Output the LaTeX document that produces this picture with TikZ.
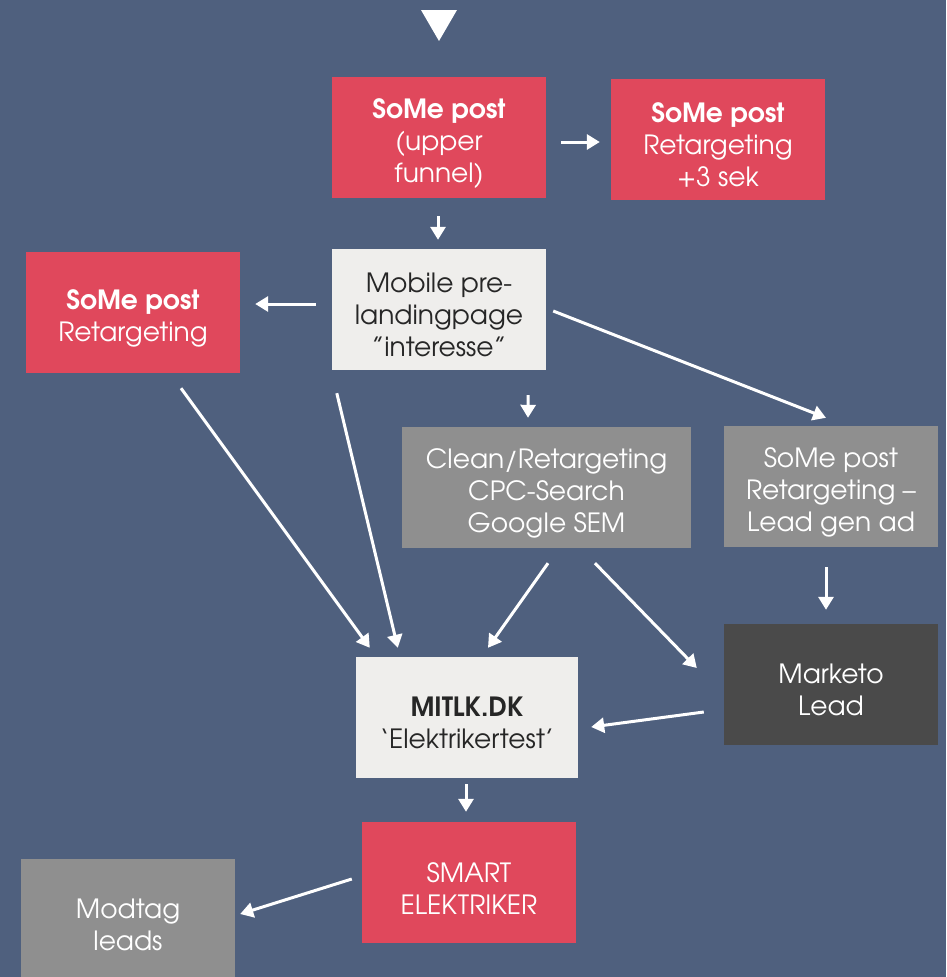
\documentclass[tikz,border=0pt]{standalone}
\usepackage{fontspec}
\setmainfont{TeX Gyre Adventor}
\usetikzlibrary{arrows.meta,calc}
\definecolor{bg}{RGB}{79,96,126}
\definecolor{redbox}{RGB}{224,72,92}
\definecolor{lightbox}{RGB}{239,238,236}
\definecolor{graybox}{RGB}{143,143,143}
\definecolor{darkbox}{RGB}{74,74,74}
\newcommand\boxtop{\rule{0pt}{31pt}}
\tikzset{
  box/.style={minimum width=214pt, minimum height=121pt, inner sep=0pt, align=center,
    font=\fontsize{26.5}{32}\selectfont},
  redb/.style={box, fill=redbox, text=white},
  lightb/.style={box, fill=lightbox, text=black!85},
  grayb/.style={box, fill=graybox, text=white},
  darkb/.style={box, fill=darkbox, text=white},
  arr/.style={draw=white, line width=3pt, -{Triangle[length=13pt,width=15pt]}},
}
\begin{document}
\begin{tikzpicture}[x=1pt,y=-1pt]
\fill[bg] (0,0) rectangle (946,977);
\useasboundingbox (0,0) rectangle (946,977);
\clip (0,0) rectangle (946,977);
\fill[white] (421,10) -- (457,10) -- (439,41) -- cycle;
\node[redb] (b1) at (439,137.5) {\boxtop\textbf{SoMe post}\\(upper\\funnel)};
\node[redb] (b2) at (718,139.5) {\boxtop\textbf{SoMe post}\\Retargeting\\+3 sek};
\node[lightb] (mob) at (439,309.5) {\boxtop Mobile pre-\\landingpage\\"interesse"};
\node[redb] (lret) at (133,312.5) {\boxtop\textbf{SoMe post}\\Retargeting};
\node[grayb, minimum width=289pt] (clean) at (546.5,487.5) {\boxtop Clean/Retargeting\\CPC-Search\\Google SEM};
\node[grayb] (lgen) at (831,486.5) {\boxtop SoMe post\\Retargeting –\\Lead gen ad};
\node[darkb] (mkto) at (831,684.5) {\boxtop Marketo\\Lead};
\node[lightb, minimum width=222pt] (mit) at (467,717.5) {\boxtop\textbf{MITLK.DK}\\‘Elektrikertest’};
\node[redb] (smart) at (469,882.5) {\boxtop SMART\\ELEKTRIKER};
\node[grayb] (modtag) at (128,919.5) {\boxtop Modtag\\leads};
\draw[arr] ($(b1.east)+(15,4.5)$) -- ($(b2.west)+(-11,2.5)$);
\draw[arr] ($(b1.south)+(-1,18)$) -- ($(mob.north)+(-1,-9)$);
\draw[arr] ($(mob.west)+(-16,-5.5)$) -- ($(lret.east)+(15,-8.5)$);
\draw[arr] ($(mob.south east)+(-18,25)$) -- ($(clean.north)+(-18.5,-9)$);
\draw[arr] ($(mob.east)+(7,1.5)$) -- ($(lgen.north)+(-5,-8)$);
\draw[arr] ($(lret.south)+(48,15)$) -- ($(mit.north west)+(14,-9)$);
\draw[arr] ($(mob.south west)+(5,23)$) -- ($(mit.north west)+(42,-9)$);
\draw[arr] ($(clean.south)+(1.5,15)$) -- ($(mit.north)+(21,-9)$);
\draw[arr] ($(clean.south)+(48.5,15)$) -- ($(mkto.west)+(-27,-16.5)$);
\draw[arr] ($(lgen.south)+(-5,20)$) -- ($(mkto.north)+(-5,-14)$);
\draw[arr] ($(mkto.west)+(-20,27.5)$) -- ($(mit.east)+(13,9.5)$);
\draw[arr] ($(mit.south)+(-1,6)$) -- ($(smart.north)+(-3,-10)$);
\draw[arr] ($(smart.west)+(-10,-3.5)$) -- ($(modtag.east)+(5,-5.5)$);
\end{tikzpicture}
\end{document}
